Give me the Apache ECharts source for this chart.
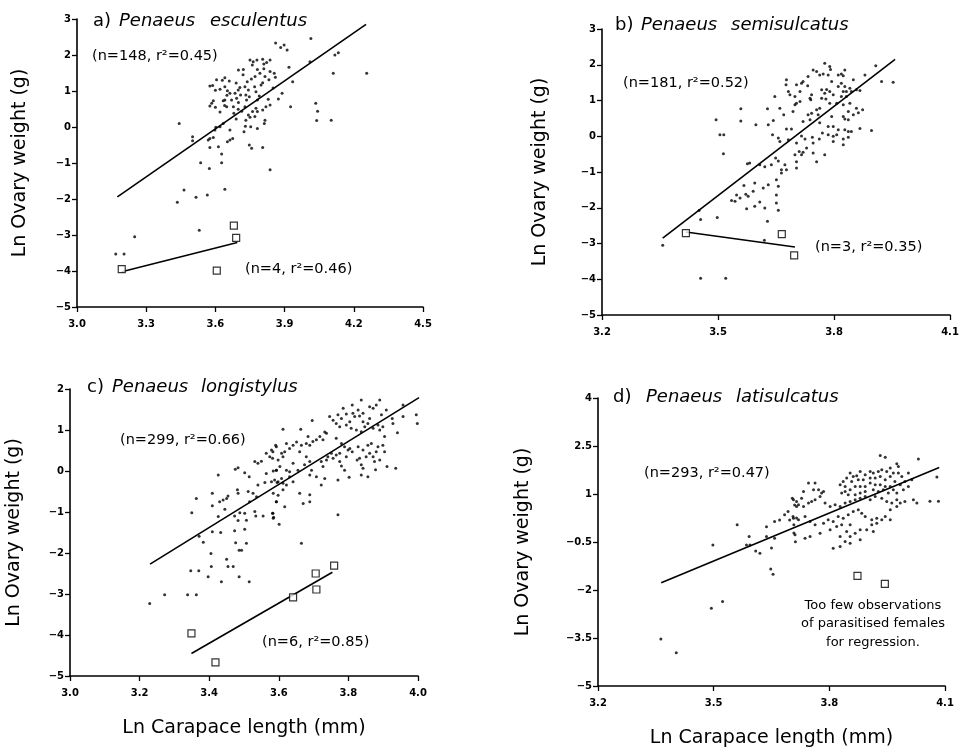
<!DOCTYPE html>
<html><head><meta charset="utf-8">
<script src="https://cdn.jsdelivr.net/npm/echarts@6/dist/echarts.min.js"></script>
<style>html,body{margin:0;padding:0;background:#fff}#c{width:963px;height:752px}</style>
</head><body><div id="c"></div>
<script>
// ---- tick values ----
const ticksXa = [3.0, 3.3, 3.6, 3.9, 4.2, 4.5];
const ticksYa = [-5, -4, -3, -2, -1, 0, 1, 2, 3];
const ticksXb = [3.2, 3.5, 3.8, 4.1];
const ticksYb = [-5, -4, -3, -2, -1, 0, 1, 2, 3];
const ticksXc = [3.0, 3.2, 3.4, 3.6, 3.8, 4.0];
const ticksYc = [-5, -4, -3, -2, -1, 0, 1, 2];
const ticksXd = [3.2, 3.5, 3.8, 4.1];
const ticksYd = [-5, -3.5, -2, -0.5, 1, 2.5, 4];

// ---- a) Penaeus esculentus ----
const escPoints = [
[3.861,2.33],[3.883,2.21],[3.898,2.28],[3.911,2.14],[4.014,2.46],[4.118,2.0],[4.133,2.06],[4.111,1.49],[4.256,1.49],[4.01,1.81],[3.919,1.66],[3.935,1.26],[3.889,0.94],[3.873,0.78],[3.926,0.56],[4.035,0.66],[4.043,0.44],[4.039,0.18],[4.102,0.19],
[3.75,1.86],[3.764,1.81],[3.78,1.86],[3.805,1.88],[3.822,1.79],[3.837,1.86],[3.81,1.75],
[3.721,1.60],[3.782,1.60],[3.793,1.49],[3.837,1.54],[3.855,1.49],[3.772,1.40],[3.815,1.40],[3.832,1.31],[3.805,1.23],[3.798,1.17],[3.756,1.33],[3.738,1.26],
[3.641,1.37],[3.605,1.31],[3.576,1.14],[3.588,1.15],[3.620,1.05],[3.641,1.12],[3.652,1.01],[3.663,0.94],[3.685,0.94],[3.699,1.03],[3.706,1.10],[3.728,1.12],[3.743,1.03],[3.732,0.89],[3.709,0.89],[3.692,0.80],[3.670,0.75],[3.641,0.75],[3.634,0.73],[3.591,0.73],[3.584,0.66],[3.576,0.58],[3.649,0.56],[3.678,0.56],[3.699,0.49],[3.714,0.44],[3.728,0.56],[3.735,0.75],[3.747,0.84],[3.776,0.98],[3.782,0.75],[3.776,0.52],[3.761,0.43],[3.743,0.33],[3.750,0.27],[3.732,0.19],[3.771,0.29],[3.782,0.43],[3.805,0.47],[3.819,0.56],[3.837,0.61],[3.829,0.77],[3.815,0.19],[3.812,0.10],[3.782,-0.04],[3.753,0.01],[3.724,-0.13],[3.663,-0.08],[3.634,0.10],[3.620,0.01],[3.602,-0.01],[3.598,-0.08],[3.576,-0.32],[3.591,-0.29],[3.569,-0.36],[3.663,-0.36],[3.675,-0.32],[3.652,-0.41],[3.747,-0.50],[3.757,-0.59],[3.805,-0.57],[3.613,-0.55],[3.576,-0.57],[3.627,-0.75],[3.627,-0.99],[3.536,-0.99],[3.574,-1.15],[3.837,-1.19],[3.501,-0.27],[3.501,-0.38],[3.443,0.10],[3.464,-1.75],[3.516,-1.95],[3.565,-1.89],[3.641,-1.73],[3.435,-2.09],
[3.70,1.58],[3.72,1.45],[3.66,1.28],[3.69,1.22],[3.77,1.12],[3.79,0.86],[3.70,0.68],[3.68,0.38],[3.62,0.42],[3.65,0.88],[3.60,1.02],[3.63,1.30],[3.76,1.72],[3.81,1.62],[3.85,1.08],[3.86,1.38],[3.73,0.02],[3.69,0.22],[3.60,0.55],[3.64,0.60],
[3.53,-2.87],[3.25,-3.05],[3.168,-3.53],[3.204,-3.53]
];
const escSquares = [[3.194,-3.95],[3.68,-2.74],[3.69,-3.08],[3.606,-3.99]];
const escFit = [[3.175,-1.94],[4.253,2.85]];
const escParFit = [[3.194,-4.02],[3.695,-3.21]];

// ---- b) Penaeus semisulcatus ----
const semPoints = [
[3.357,-3.05],[3.455,-3.97],[3.52,-3.97],[3.62,-2.91],
[3.495,0.46],[3.505,0.04],[3.515,0.04],[3.514,-0.49],[3.559,0.77],[3.559,0.43],[3.598,0.32],[3.576,-0.77],[3.628,0.77],[3.63,0.32],[3.647,1.11],[3.643,0.44],[3.641,0.04],[3.656,-0.05],[3.660,-0.15],[3.649,-0.61],[3.656,-0.69],[3.673,-0.80],[3.664,-0.94],[3.677,-0.94],[3.664,-1.03],[3.699,-0.52],[3.710,-0.43],[3.703,-0.71],[3.703,-0.89],[3.720,-0.45],[3.716,-0.52],[3.746,-0.47],[3.755,-0.71],[3.776,-0.52],
[3.608,-0.80],[3.621,-0.85],[3.638,-0.80],[3.651,-1.22],[3.656,-1.40],[3.630,-1.36],[3.617,-1.45],[3.595,-1.31],[3.591,-1.54],[3.578,-1.68],[3.572,-1.62],[3.567,-1.38],[3.548,-1.64],[3.557,-1.73],[3.544,-1.82],[3.535,-1.80],[3.574,-2.03],[3.595,-1.96],[3.608,-1.84],[3.621,-2.01],[3.651,-1.64],[3.651,-1.87],[3.656,-2.07],[3.451,-2.08],[3.455,-2.33],[3.498,-2.27],[3.628,-2.38],[3.582,-0.75],
[3.776,2.04],[3.789,1.95],[3.791,1.87],[3.746,1.85],[3.755,1.81],[3.763,1.71],[3.772,1.74],[3.785,1.71],[3.811,1.71],[3.819,1.74],[3.828,1.85],[3.824,1.69],[3.880,1.71],[3.908,1.97],[3.923,1.53],[3.953,1.51],
[3.677,1.58],[3.676,1.44],[3.703,1.44],[3.716,1.48],[3.720,1.53],[3.733,1.67],[3.732,1.41],
[3.682,1.25],[3.686,1.16],[3.699,1.11],[3.712,1.25],[3.742,1.16],[3.738,1.06],[3.740,1.02],
[3.768,1.30],[3.781,1.31],[3.776,1.20],[3.794,1.53],[3.789,1.25],[3.768,1.06],[3.779,1.04],
[3.811,1.39],[3.819,1.48],[3.828,1.39],[3.832,1.25],[3.824,1.25],[3.841,1.34],[3.845,1.25],[3.858,1.30],[3.867,1.28],[3.850,1.58],
[3.798,1.16],[3.819,1.11],[3.832,1.11],
[3.703,0.92],[3.712,0.97],[3.699,0.88],[3.694,0.69],[3.670,0.60],[3.660,0.78],
[3.763,0.78],[3.755,0.74],[3.759,0.60],[3.742,0.64],[3.733,0.60],[3.789,0.92],[3.807,0.92],[3.824,0.88],
[3.841,0.92],[3.837,0.69],[3.824,0.55],[3.828,0.48],[3.837,0.46],[3.850,0.60],[3.858,0.78],[3.863,0.66],[3.874,0.74],[3.794,0.55],
[3.720,0.41],[3.738,0.46],[3.763,0.38],[3.785,0.27],[3.798,0.27],[3.811,0.18],[3.828,0.18],[3.837,0.13],[3.845,0.13],[3.867,0.22],[3.897,0.16],
[3.677,0.20],[3.690,0.20],[3.682,-0.10],[3.716,0.01],[3.703,-0.19],[3.725,-0.08],[3.744,-0.03],[3.762,-0.08],[3.746,-0.19],[3.770,0.09],[3.785,0.04],[3.798,0.0],[3.807,0.04],[3.824,-0.08],[3.837,-0.03],[3.798,-0.15],
[3.729,-0.33],[3.824,-0.24]
];
const semSquares = [[3.417,-2.71],[3.665,-2.74],[3.697,-3.33]];
const semFit = [[3.357,-2.85],[3.958,2.15]];
const semParFit = [[3.417,-2.68],[3.699,-3.10]];

// ---- c) Penaeus longistylus ----
const lonPoints = [
[3.229,-3.23],[3.272,-3.02],[3.338,-3.02],[3.363,-3.02],[3.347,-2.43],[3.370,-2.43],[3.397,-2.58],[3.435,-2.70],[3.406,-2.33],[3.450,-2.15],[3.454,-2.33],[3.469,-2.33],[3.486,-2.58],[3.515,-2.70],[3.405,-2.01],[3.383,-1.74],[3.371,-1.59],[3.409,-1.48],[3.433,-1.50],[3.473,-1.46],[3.476,-1.75],[3.486,-1.93],[3.493,-1.93],[3.507,-1.76],[3.350,-1.02],[3.363,-0.67],[3.409,-0.85],
[3.426,-0.10],[3.475,0.04],[3.483,0.08],[3.502,-0.04],[3.515,-0.14],[3.531,0.23],[3.540,0.19],[3.550,0.24],[3.564,0.43],[3.574,0.35],[3.583,0.47],[3.591,0.63],[3.593,0.02],[3.564,-0.06],[3.540,-0.34],[3.560,-0.28],[3.579,-0.26],[3.595,-0.28],[3.512,-0.50],[3.526,-0.54],[3.536,-0.63],[3.516,-0.75],[3.481,-0.46],[3.483,-0.54],[3.454,-0.61],[3.450,-0.67],[3.440,-0.71],[3.430,-0.75],[3.409,-0.54],[3.445,-0.93],[3.426,-1.11],[3.473,-1.10],[3.488,-1.02],[3.483,-1.21],[3.502,-1.03],[3.507,-1.20],[3.531,-0.99],[3.534,-1.10],[3.555,-1.10],[3.583,-1.03],[3.585,-1.13],[3.593,-0.75],[3.598,-0.59],[3.502,-1.42],
[3.837,1.73],[3.890,1.73],[3.880,1.61],[3.871,1.53],[3.861,1.57],[3.811,1.61],[3.828,1.49],[3.842,1.41],[3.909,1.49],[3.895,1.37],[3.957,1.61],[3.995,1.37],[3.998,1.16],[3.957,1.33],[3.926,1.28],[3.928,1.16],[3.941,0.93],[3.904,0.84],[3.911,0.11],[3.936,0.07],[3.878,0.03],[3.856,-0.14],[3.837,-0.10],[3.802,-0.15],[3.770,-0.22],[3.770,-1.07],[3.696,1.23],[3.612,1.02],[3.663,1.02],[3.785,1.53],[3.794,1.39],[3.813,1.41],[3.818,1.33],[3.832,1.34],[3.842,1.20],[3.861,1.28],[3.847,1.08],[3.856,1.16],[3.871,1.04],[3.885,1.12],[3.890,1.00],[3.899,1.08],
[3.746,1.33],[3.756,1.24],[3.765,1.16],[3.780,1.28],[3.770,1.37],[3.775,1.08],[3.794,1.12],[3.804,1.20],[3.808,1.04],[3.823,1.00],[3.837,0.96],
[3.732,0.95],[3.737,0.92],[3.718,0.84],[3.727,0.76],[3.708,0.76],[3.698,0.72],[3.684,0.84],[3.679,0.67],[3.689,0.63],[3.665,0.63],[3.651,0.71],[3.641,0.63],[3.631,0.55],[3.622,0.67],[3.617,0.47],[3.608,0.43],[3.593,0.59],[3.598,0.27],[3.582,0.31],[3.579,0.51],
[3.765,0.80],[3.780,0.67],[3.789,0.59],[3.799,0.51],[3.804,0.55],[3.811,0.47],[3.794,0.35],[3.775,0.43],[3.765,0.39],[3.756,0.31],[3.751,0.43],
[3.828,0.59],[3.842,0.51],[3.856,0.63],[3.866,0.67],[3.861,0.43],[3.851,0.35],[3.871,0.35],[3.880,0.47],[3.885,0.59],[3.899,0.63],[3.904,0.47],[3.890,0.27],[3.875,0.23],[3.832,0.31],[3.825,0.27],
[3.660,0.47],[3.679,0.35],[3.689,0.23],[3.674,0.15],[3.655,0.02],[3.641,0.19],[3.631,-0.02],[3.622,0.02],[3.612,0.35],[3.603,0.11],[3.593,0.02],[3.608,-0.18],[3.631,-0.14],[3.641,-0.26],[3.622,-0.34],[3.612,-0.30],[3.584,0.0],[3.598,-0.26],[3.588,-0.22],
[3.722,0.23],[3.727,0.11],[3.737,0.27],[3.741,0.35],[3.694,0.02],[3.689,-0.10],[3.708,-0.14],
[3.775,0.23],[3.780,0.12],[3.789,0.02],
[3.660,-0.54],[3.689,-0.58],[3.670,-0.79],[3.689,-0.75],[3.612,-0.46],[3.593,-0.75],[3.584,-0.54],[3.617,-0.87],[3.582,-1.03],[3.584,-1.15],[3.601,-1.30],[3.722,-0.34],[3.732,-0.18],
[3.837,0.15],[3.842,0.07],[3.665,-1.76]
];
const lonSquares = [[3.349,-3.96],[3.418,-4.67],[3.641,-3.08],[3.706,-2.50],[3.708,-2.89],[3.759,-2.31]];
const lonFit = [[3.230,-2.27],[4.003,1.79]];
const lonParFit = [[3.349,-4.45],[3.754,-2.47]];

// ---- d) Penaeus latisulcatus ----
const latPoints = [
[3.363,-3.53],[3.403,-3.96],[3.494,-2.57],[3.523,-2.36],
[3.561,0.04],[3.498,-0.59],[3.592,-0.33],[3.594,-0.59],[3.585,-0.59],[3.609,-0.78],[3.620,-0.85],[3.637,-0.33],[3.637,-0.02],[3.658,-0.38],[3.650,-0.69],[3.648,-1.34],[3.654,-1.51],[3.658,0.14],[3.671,0.19],[3.684,0.35],[3.693,0.45],[3.697,0.19],[3.706,0.30],[3.715,0.25],[3.708,0.04],[3.708,-0.22],[3.712,-0.49],[3.704,0.87],[3.710,0.66],[3.715,0.61],
[3.932,2.20],[3.945,2.15],[4.031,2.09],[4.079,1.53],[4.061,0.77],[4.083,0.77],
[3.975,1.945],[3.979,1.862],[3.958,1.81],[3.949,1.706],[3.936,1.758],[3.927,1.706],[3.914,1.653],[3.906,1.706],[3.893,1.601],[3.880,1.706],[3.871,1.57],[3.862,1.549],[3.854,1.653],[3.845,1.497],[3.836,1.393],[3.828,1.288],[3.841,1.236],[3.858,1.393],[3.875,1.445],[3.888,1.445],[3.906,1.497],[3.919,1.497],[3.932,1.549],[3.945,1.445],[3.958,1.549],[3.966,1.653],[3.979,1.653],[3.988,1.549],[4.005,1.653],[4.014,1.445],[3.996,1.393],[3.984,1.288],[3.970,1.393],[3.958,1.236],[3.945,1.236],[3.932,1.288],[3.919,1.288],[3.906,1.34],[3.893,1.236],[3.880,1.236],[3.867,1.236],[3.854,1.132],[3.841,1.08],[3.832,1.028],[3.849,0.975],[3.867,0.975],[3.880,1.028],[3.893,1.08],[3.914,1.132],[3.927,1.08],[3.940,1.132],[3.953,1.028],[3.966,1.132],[3.975,1.028],[3.992,1.132],[4.005,1.236],
[3.707,0.819],[3.715,0.767],[3.720,0.663],[3.733,0.611],[3.746,0.715],[3.754,0.767],[3.763,0.819],[3.776,0.923],[3.780,1.028],[3.763,1.34],[3.746,1.34],[3.733,1.08],[3.728,0.871],[3.759,1.132],[3.772,1.132],[3.785,1.08],
[3.789,0.715],[3.802,0.611],[3.815,0.663],[3.828,0.611],[3.841,0.715],[3.854,0.767],[3.867,0.819],[3.880,0.871],[3.893,0.923],[3.906,0.819],[3.919,0.923],[3.936,0.871],[3.949,0.767],[3.962,0.715],[3.975,0.819],[3.996,0.767],[4.018,0.819],[4.027,0.715],
[3.707,0.246],[3.720,0.193],[3.737,0.298],[3.750,0.142],[3.763,0.037],[3.785,0.089],[3.797,0.193],[3.810,0.142],[3.823,0.298],[3.836,0.246],[3.849,0.350],[3.862,0.454],[3.875,0.506],[3.884,0.402],[3.893,0.298],[3.910,0.193],[3.923,0.246],[3.936,0.193],[3.945,0.298],[3.958,0.193],
[3.711,-0.276],[3.737,-0.38],[3.750,-0.328],[3.776,-0.224],[3.802,-0.12],[3.819,-0.015],[3.832,0.037],[3.854,0.037],[3.845,-0.172],[3.828,-0.328],[3.854,-0.328],[3.867,-0.224],[3.880,-0.12],[3.897,-0.12],[3.914,-0.172],[3.880,-0.432],[3.854,-0.536],[3.841,-0.484],[3.828,-0.641],[3.810,-0.693],[3.910,0.037],[3.923,0.089],[3.958,0.506],[3.975,0.611],[3.984,0.715]
];
const latSquares = [[3.873,-1.56],[3.944,-1.81]];
const latFit = [[3.364,-1.77],[4.085,1.83]];

// ---- layout ----
const grids = [
  {left: 77, top: 19, width: 346, height: 288},
  {left: 602, top: 29, width: 348, height: 286},
  {left: 70, top: 389, width: 348, height: 287},
  {left: 598, top: 398, width: 347, height: 288}
];
const FONT = 'DejaVu Sans';
const fmtX = v => v.toFixed(1);
const fmtY = v => String(v).replace('-', '\u2212');
function xAxis(g, min, max, ticks, name, gap) {
  return {
    type: 'value', gridIndex: g, min: min, max: max,
    axisLine: {show: true, onZero: false, lineStyle: {color: '#000', width: 1.6}},
    axisTick: {show: true, inside: false, length: 5, customValues: ticks, lineStyle: {color: '#000', width: 1.3}},
    axisLabel: {customValues: ticks, formatter: fmtX, color: '#000', fontFamily: FONT, fontWeight: 'bold', fontSize: 10, margin: 12},
    splitLine: {show: false},
    name: name || '', nameLocation: 'middle', nameGap: gap || 30,
    nameTextStyle: {color: '#000', fontFamily: FONT, fontSize: 19}
  };
}
function yAxis(g, min, max, ticks, gap) {
  return {
    type: 'value', gridIndex: g, min: min, max: max,
    axisLine: {show: true, onZero: false, lineStyle: {color: '#000', width: 1.6}},
    axisTick: {show: true, inside: false, length: 5, customValues: ticks, lineStyle: {color: '#000', width: 1.3}},
    axisLabel: {customValues: ticks, formatter: fmtY, color: '#000', fontFamily: FONT, fontWeight: 'bold', fontSize: 10, margin: 6},
    splitLine: {show: false},
    name: 'Ln Ovary weight (g)', nameLocation: 'middle', nameGap: gap,
    nameTextStyle: {color: '#000', fontFamily: FONT, fontSize: 19}
  };
}
function dots(i, data) {
  return {type: 'scatter', xAxisIndex: i, yAxisIndex: i, data: data, symbol: 'circle', symbolSize: 3,
    itemStyle: {color: '#000'}, silent: true, z: 3};
}
function squares(i, data) {
  return {type: 'scatter', xAxisIndex: i, yAxisIndex: i, data: data, symbol: 'rect', symbolSize: 7,
    itemStyle: {color: '#fff', borderColor: '#000', borderWidth: 1.2}, silent: true, z: 5};
}
function fit(i, data) {
  return {type: 'line', xAxisIndex: i, yAxisIndex: i, data: data, showSymbol: false, symbol: 'none',
    lineStyle: {color: '#000', width: 1.6}, silent: true, z: 4};
}
function txt(x, y, s, opt) {
  opt = opt || {};
  return {type: 'text', x: x, y: y, silent: true, style: {
    text: s, fill: '#000', font: (opt.italic ? 'italic ' : '') + (opt.size || 14.5) + 'px "' + FONT + '"',
    textAlign: opt.align || 'left', textVerticalAlign: 'middle'}};
}

const chart = echarts.init(document.getElementById('c'), null, {renderer: 'canvas'});
chart.setOption({
  backgroundColor: '#fff',
  animation: false,
  grid: grids,
  xAxis: [
    xAxis(0, 3.0, 4.5, ticksXa),
    xAxis(1, 3.2, 4.1, ticksXb),
    xAxis(2, 3.0, 4.0, ticksXc, 'Ln Carapace length (mm)', 43),
    xAxis(3, 3.2, 4.1, ticksXd, 'Ln Carapace length (mm)', 43)
  ],
  yAxis: [
    yAxis(0, -5, 3, ticksYa, 47),
    yAxis(1, -5, 3, ticksYb, 52),
    yAxis(2, -5, 2, ticksYc, 46),
    yAxis(3, -5, 4, ticksYd, 65)
  ],
  series: [
    dots(0, escPoints), fit(0, escFit), fit(0, escParFit), squares(0, escSquares),
    dots(1, semPoints), fit(1, semFit), fit(1, semParFit), squares(1, semSquares),
    dots(2, lonPoints), fit(2, lonFit), fit(2, lonParFit), squares(2, lonSquares),
    dots(3, latPoints), fit(3, latFit), squares(3, latSquares)
  ],
  graphic: [
    txt(93, 21, 'a)', {size: 18}), txt(119, 21, 'Penaeus', {size: 18, italic: true}), txt(210, 21, 'esculentus', {size: 18, italic: true}),
    txt(92, 56, '(n=148, r\u00b2=0.45)'),
    txt(245, 269, '(n=4, r\u00b2=0.46)'),
    txt(615, 25, 'b)', {size: 18}), txt(641, 25, 'Penaeus', {size: 18, italic: true}), txt(731, 25, 'semisulcatus', {size: 18, italic: true}),
    txt(623, 83, '(n=181, r\u00b2=0.52)'),
    txt(815, 247, '(n=3, r\u00b2=0.35)'),
    txt(87, 387, 'c)', {size: 18}), txt(112, 387, 'Penaeus', {size: 18, italic: true}), txt(201, 387, 'longistylus', {size: 18, italic: true}),
    txt(120, 440, '(n=299, r\u00b2=0.66)'),
    txt(262, 642, '(n=6, r\u00b2=0.85)'),
    txt(613, 397, 'd)', {size: 18}), txt(646, 397, 'Penaeus', {size: 18, italic: true}), txt(736, 397, 'latisulcatus', {size: 18, italic: true}),
    txt(644, 473, '(n=293, r\u00b2=0.47)'),
    txt(873, 606, 'Too few observations', {size: 13, align: 'center'}),
    txt(873, 624, 'of parasitised females', {size: 13, align: 'center'}),
    txt(873, 643, 'for regression.', {size: 13, align: 'center'})
  ]
});
</script>
</body></html>
